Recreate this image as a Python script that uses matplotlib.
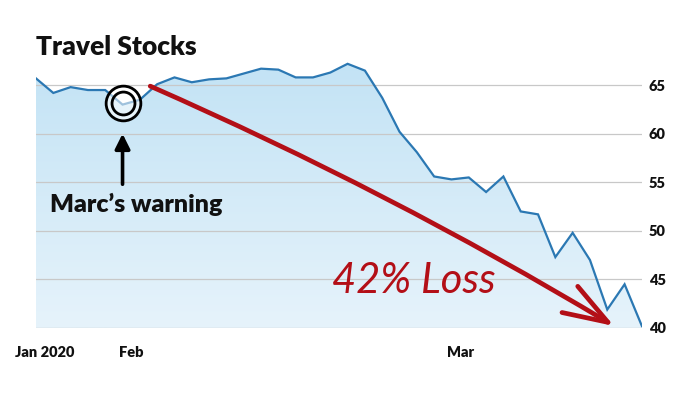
import numpy as np
import matplotlib
matplotlib.use("Agg")
import matplotlib.pyplot as plt
from matplotlib.colors import LinearSegmentedColormap
from matplotlib.patches import Polygon

# Travel stocks index, daily closes
prices = [65.7, 64.2, 64.8, 64.5, 64.5, 63.0, 63.5, 65.1, 65.8, 65.3,
          65.6, 65.7, 66.2, 66.7, 66.6, 65.8, 65.8, 66.3, 67.2, 66.5,
          63.7, 60.2, 58.1, 55.6, 55.3, 55.5, 54.0, 55.6, 52.0, 51.7,
          47.3, 49.8, 47.0, 41.9, 44.5, 40.2]
month_idx = [0, 5, 24]
month_labels = ["Jan 2020", "Feb", "Mar"]
y_ticks = [40, 45, 50, 55, 60, 65]

warning_idx = 5
arrow_start = (6.6, 64.9)
arrow_end = (33.4, 40.2)

plt.rcParams['font.family'] = ['Lato', 'DejaVu Sans']

fig = plt.figure(figsize=(7, 3.93), dpi=100)
ax = fig.add_axes([0.0514, 0.1654, 0.917 - 0.0514, 0.692])

x = np.arange(len(prices))
ymin, ymax = 40, 68
ax.set_xlim(0, len(prices) - 1)
ax.set_ylim(ymin, ymax)

# gradient fill under the line
cmap = LinearSegmentedColormap.from_list("fill", ["#e6f3fb", "#c3e3f5"])
grad = np.linspace(0, 1, 256).reshape(-1, 1)
img = ax.imshow(grad, cmap=cmap, aspect='auto', origin='lower',
                extent=[0, len(prices) - 1, ymin, max(prices)], zorder=1)
verts = [(0, ymin)] + list(zip(x, prices)) + [(len(prices) - 1, ymin)]
clip = Polygon(verts, closed=True, transform=ax.transData, facecolor='none', edgecolor='none')
ax.add_patch(clip)
img.set_clip_path(clip)

for yt in y_ticks:
    ax.axhline(yt, color='#c8c8c8' if yt > 40 else '#b8b8b8', lw=0.9, zorder=2)

ax.plot(x, prices, color='#2b78b3', lw=1.6, zorder=3, solid_joinstyle='miter')

# circle around Marc's warning
ax.plot(warning_idx, 63.15, marker='o', ms=25, mfc=(1, 1, 1, 0.55), mec='black', mew=2.0, zorder=5)
ax.plot(warning_idx, 63.15, marker='o', ms=16.5, mfc='none', mec='black', mew=2.0, zorder=5)
ax.annotate("", xy=(warning_idx, 60.0), xytext=(warning_idx, 54.8),
            arrowprops=dict(arrowstyle='-|>,head_length=0.9,head_width=0.45', color='black', lw=2.6,
                            shrinkA=0, shrinkB=0), zorder=6)
ax.text(0.8, 51.9, "Marc\u2019s warning", fontsize=18, fontweight='heavy', color='#111111',
        ha='left', va='baseline', zorder=6)

# red trend arrow
ax.annotate("", xy=arrow_end, xytext=arrow_start,
            arrowprops=dict(arrowstyle='->,head_length=3.2,head_width=1.1', color='#b30f17', lw=3.4,
                            connectionstyle='arc3,rad=-0.032', shrinkA=0, shrinkB=0,
                            joinstyle='round', capstyle='round'), zorder=7)
ax.text(17.1, 43.6, "42% Loss", fontsize=30, fontweight='normal', fontstyle='italic',
        color='#b30f17', ha='left', va='baseline', zorder=7)

ax.text(0.0, 1.003, "Travel Stocks", transform=ax.transAxes, fontsize=19, fontweight='heavy',
        color='#111111', ha='left', va='baseline')

ax.set_yticks(y_ticks)
ax.yaxis.tick_right()
ax.set_xticks([i + 0.5 for i in month_idx])
ax.set_xticklabels(month_labels)
ax.tick_params(axis='both', length=0, labelsize=10.5)
ax.tick_params(axis='x', pad=13)
ax.tick_params(axis='y', pad=5)
for lab in ax.get_xticklabels() + ax.get_yticklabels():
    lab.set_fontweight('heavy')
    lab.set_color('#111111')
for s in ax.spines.values():
    s.set_visible(False)

fig.savefig("out.png", dpi=100)
